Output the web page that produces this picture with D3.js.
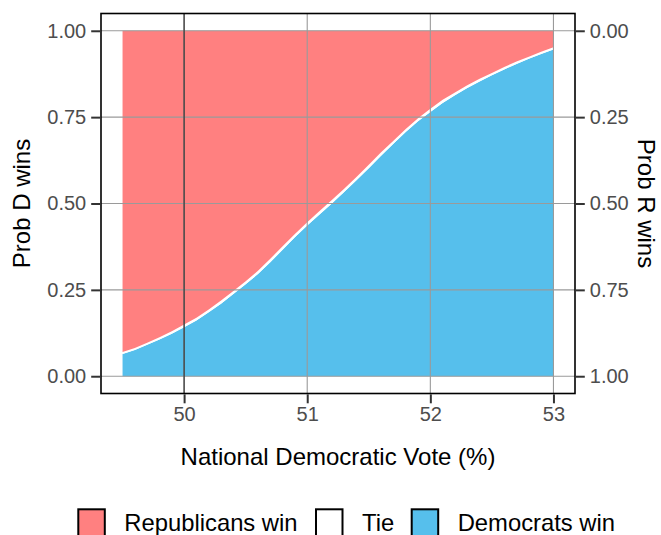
<!DOCTYPE html>
<html>
<head>
<meta charset="utf-8">
<script src="https://cdn.jsdelivr.net/npm/d3@7"></script>
<style>
  html, body { margin: 0; padding: 0; background: #fff; }
  svg { display: block; font-family: "Liberation Sans", Arial, sans-serif; }
</style>
</head>
<body>
<svg id="chart" width="661" height="535"></svg>
<script>
// ---- data ----
const votes = [49.5,49.6,49.7,49.8,49.9,50.0,50.1,50.2,50.3,50.4,50.5,50.6,50.7,50.8,50.9,51.0,51.1,51.2,51.3,51.4,51.5,51.6,51.7,51.8,51.9,52.0,52.1,52.2,52.3,52.4,52.5,52.6,52.7,52.8,52.9,53.0];
const demWin = [0.064,0.076,0.091,0.106,0.123,0.142,0.161,0.185,0.210,0.238,0.266,0.296,0.330,0.366,0.402,0.436,0.468,0.500,0.533,0.567,0.602,0.638,0.673,0.707,0.738,0.765,0.791,0.813,0.834,0.853,0.871,0.888,0.904,0.919,0.933,0.946];
const tieProb = [0.006,0.006,0.006,0.007,0.007,0.008,0.008,0.008,0.009,0.009,0.009,0.009,0.010,0.010,0.010,0.010,0.010,0.010,0.010,0.010,0.010,0.010,0.009,0.009,0.009,0.009,0.009,0.008,0.008,0.008,0.007,0.007,0.007,0.006,0.006,0.006];
const repWin = [0.930,0.918,0.903,0.887,0.870,0.850,0.831,0.807,0.781,0.753,0.725,0.695,0.660,0.624,0.588,0.554,0.522,0.490,0.457,0.423,0.388,0.352,0.318,0.284,0.253,0.226,0.200,0.179,0.158,0.139,0.122,0.105,0.089,0.075,0.061,0.048];
const xTicks = [50, 51, 52, 53];
const yTicks = [0, 0.25, 0.5, 0.75, 1];
const seriesKeys = ["dem", "tie", "rep"];
const legendLabels = ["Republicans win", "Tie", "Democrats win"];
const legendKeys = ["rep", "tie", "dem"];
const colors = { rep: "#FF8080", tie: "#FFFFFF", dem: "#56BFEC" };
const vlineAt = 50;

// ---- layout ----
const svg = d3.select("#chart");
const P = { left: 101, right: 575, top: 13.5, bottom: 393.5 };

const xExt = d3.extent(votes);
const xPad = (xExt[1] - xExt[0]) * 0.05;
const x = d3.scaleLinear().domain([xExt[0] - xPad, xExt[1] + xPad]).range([P.left, P.right]);
const y = d3.scaleLinear().domain([-0.05, 1.05]).range([P.bottom, P.top]);
const yR = d3.scaleLinear().domain([1.05, -0.05]).range([P.bottom, P.top]);

const table = votes.map((v, i) => ({ vote: v, dem: demWin[i], tie: tieProb[i], rep: repWin[i] }));
const stacked = d3.stack().keys(seriesKeys)(table);

const area = d3.area()
  .x(d => x(d.data.vote))
  .y0(d => y(d[0]))
  .y1(d => y(d[1]));

// clip
svg.append("clipPath").attr("id", "clip")
  .append("rect").attr("x", P.left).attr("y", P.top)
  .attr("width", P.right - P.left).attr("height", P.bottom - P.top);

const panel = svg.append("g").attr("clip-path", "url(#clip)");
panel.append("rect").attr("x", P.left).attr("y", P.top)
  .attr("width", P.right - P.left).attr("height", P.bottom - P.top).attr("fill", "#fff");

panel.selectAll("path.area").data(stacked).join("path")
  .attr("class", "area")
  .attr("fill", d => colors[d.key])
  .attr("d", area);

// grid on top
panel.selectAll("line.hg").data(yTicks).join("line")
  .attr("x1", P.left).attr("x2", P.right)
  .attr("y1", d => y(d)).attr("y2", d => y(d))
  .attr("stroke", "#9a9a9a").attr("stroke-width", 1.1);
panel.selectAll("line.vg").data(xTicks).join("line")
  .attr("y1", P.top).attr("y2", P.bottom)
  .attr("x1", d => x(d)).attr("x2", d => x(d))
  .attr("stroke", "#9a9a9a").attr("stroke-width", 1.1);

// vertical reference line
panel.append("line")
  .attr("x1", x(vlineAt)).attr("x2", x(vlineAt))
  .attr("y1", P.top).attr("y2", P.bottom)
  .attr("stroke", "#333").attr("stroke-width", 1.2);

// border
svg.append("rect").attr("x", P.left).attr("y", P.top)
  .attr("width", P.right - P.left).attr("height", P.bottom - P.top)
  .attr("fill", "none").attr("stroke", "#000").attr("stroke-width", 1.6);

// axes
function styleAxis(g) {
  g.select(".domain").remove();
  g.selectAll(".tick line").attr("stroke", "#333").attr("stroke-width", 2);
  g.selectAll(".tick text").attr("fill", "#4d4d4d").attr("font-size", 20)
    .attr("font-family", "'Liberation Sans', Arial, sans-serif");
}
const fmt = d3.format(".2f");
svg.append("g").attr("transform", `translate(${P.left - 0.8},0)`)
  .call(d3.axisLeft(y).tickValues(yTicks).tickFormat(fmt).tickSize(9).tickPadding(5))
  .call(styleAxis);
svg.append("g").attr("transform", `translate(${P.right + 0.8},0)`)
  .call(d3.axisRight(yR).tickValues(yTicks).tickFormat(fmt).tickSize(9).tickPadding(5))
  .call(styleAxis);
svg.append("g").attr("transform", `translate(0,${P.bottom + 0.8})`)
  .call(d3.axisBottom(x).tickValues(xTicks).tickFormat(d3.format("d")).tickSize(9).tickPadding(4))
  .call(styleAxis);

// titles
svg.append("text").attr("x", (P.left + P.right) / 2).attr("y", 465)
  .attr("text-anchor", "middle").attr("font-size", 24).attr("fill", "#000")
  .text("National Democratic Vote (%)");
svg.append("text").attr("transform", `translate(30,${(P.top + P.bottom) / 2}) rotate(-90)`)
  .attr("text-anchor", "middle").attr("font-size", 24).attr("fill", "#000")
  .text("Prob D wins");
svg.append("text").attr("transform", `translate(638,${(P.top + P.bottom) / 2}) rotate(90)`)
  .attr("text-anchor", "middle").attr("font-size", 24).attr("fill", "#000")
  .text("Prob R wins");

// legend
const legendX = [77.3, 315, 410.7];
const lg = svg.append("g");
legendKeys.forEach((k, i) => {
  lg.append("rect").attr("x", legendX[i] + 1).attr("y", 509.3)
    .attr("width", 26.5).attr("height", 28)
    .attr("fill", colors[k]).attr("stroke", "#000").attr("stroke-width", 2);
  lg.append("text").attr("x", legendX[i] + 47).attr("y", 531)
    .attr("font-size", 23.8).attr("fill", "#000").text(legendLabels[i]);
});
</script>
</body>
</html>
